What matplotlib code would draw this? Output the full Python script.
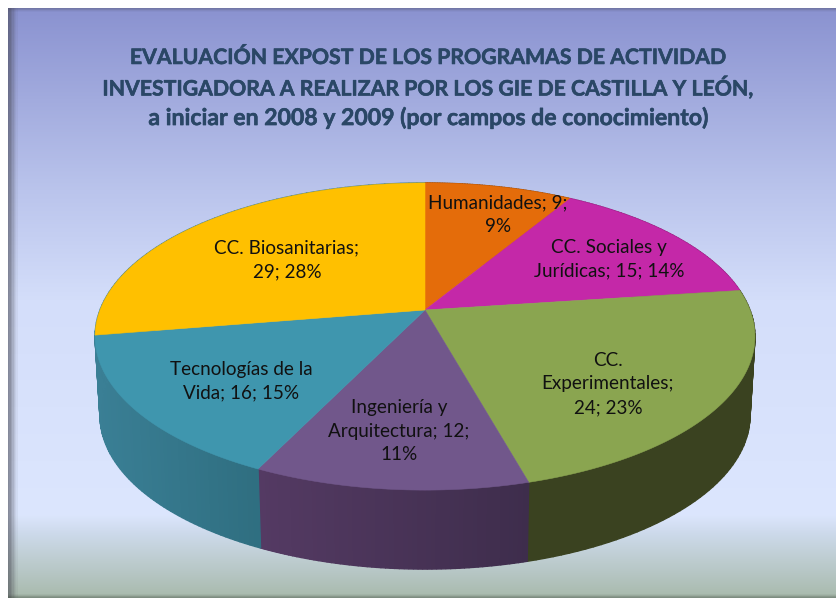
import numpy as np
import matplotlib
matplotlib.use("Agg")
import matplotlib.pyplot as plt
import matplotlib.patheffects as pe
from matplotlib.colors import to_rgb

plt.rcParams['font.family'] = ['Lato', 'DejaVu Sans']

categorias = ["Humanidades", "CC. Sociales y Jurídicas", "CC. Experimentales",
              "Ingeniería y Arquitectura", "Tecnologías de la Vida", "CC. Biosanitarias"]
valores = [9, 15, 24, 12, 16, 29]
etiquetas = ["Humanidades; 9;\n9%", "CC. Sociales y\nJurídicas; 15; 14%",
             "CC.\nExperimentales;\n24; 23%", "Ingeniería y\nArquitectura; 12;\n11%",
             "Tecnologías de la\nVida; 16; 15%", "CC. Biosanitarias;\n29; 28%"]
titulo = ["EVALUACIÓN EXPOST DE LOS PROGRAMAS DE ACTIVIDAD",
          "INVESTIGADORA A REALIZAR POR LOS GIE DE CASTILLA Y LEÓN,",
          "a iniciar en 2008 y 2009 (por campos de conocimiento)"]

colores = ["#e46c0a", "#c428a8", "#8aa550", "#71578b", "#3f96ae", "#ffc000"]
# the far left bit of the last slice's side shows up as teal in the reference
lado_izq = ["#a04c07", "#8a1d76", "#3a4220", "#543a63", "#3a7f95", "#3a7f95"]
lado_der = ["#a04c07", "#8a1d76", "#3a4220", "#3e2d4c", "#2f6e80", "#3a7f95"]
pos_etiquetas = [(498, 215), (609, 259), (608, 384), (399, 431), (241, 381), (287, 260)]
tam_titulo = [15.3, 15.3, 16.6]

# pixel geometry of the tilted pie
cx, cy = 425, 310
a, b, k = 325, 149, 0.1726
prof = 79
esc_base = 0.985


def proyecta(theta):
    # unit circle to screen, with perspective so the apex sits above the ellipse centre
    u = np.cos(np.radians(theta))
    v = np.sin(np.radians(theta))
    w = 1 + k * v
    return cx + a * u / w, cy - b * v / w


fig = plt.figure(figsize=(8.37, 5.99), dpi=100)

# ax.pie only gives the slice angles, it stays hidden
aux = fig.add_axes([0, 0, 0.1, 0.1])
wedges, _ = aux.pie(valores, startangle=90, counterclock=False)
aux.set_visible(False)

ax = fig.add_axes([0, 0, 1, 1])
ax.set_xlim(0, 837)
ax.set_ylim(599, 0)
ax.axis("off")

# background
ys = np.arange(8, 599)
stops_y = [8, 190, 300, 515, 535, 598]
stops_c = np.array([[138, 146, 208], [186, 196, 236], [212, 222, 250],
                    [220, 230, 254], [204, 217, 233], [168, 186, 172]]) / 255
fondo = np.stack([np.interp(ys, stops_y, stops_c[:, i]) for i in range(3)], axis=1)[:, None, :]
ax.imshow(fondo, extent=(8, 837, 598, 8), aspect="auto", zorder=0)
# bevel of the frame
for i, al in enumerate([0.55, 0.5, 0.4, 0.3, 0.2, 0.12, 0.06]):
    ax.fill_between([8 + i * 1.4, 9.4 + i * 1.4], 8, 598, color="#40404a", alpha=al, lw=0, zorder=1)
for i, al in enumerate([0.4, 0.3, 0.15, 0.06]):
    ax.fill_between([8, 837], 8 + i, 9 + i, color="#50506a", alpha=al, lw=0, zorder=1)
    ax.fill_between([8, 837], 597 - i, 598 - i, color="#404a40", alpha=al, lw=0, zorder=1)

# side of the pie
for w, c1, c2 in zip(wedges, lado_izq, lado_der):
    th = np.linspace(w.theta1, w.theta2, 61)
    x, y = proyecta(th)
    xb = cx + (x - cx) * esc_base
    yb = y + prof
    x0 = x.min()
    x1 = x.max()
    for i in range(len(th) - 1):
        f = (x[i] - x0) / max(x1 - x0, 1)
        col = (1 - f) * np.array(to_rgb(c1)) + f * np.array(to_rgb(c2))
        ax.fill([x[i], x[i + 1], xb[i + 1], xb[i]], [y[i], y[i + 1], yb[i + 1], yb[i]],
                color=col, lw=1, zorder=2)

# top of the pie
for w, c in zip(wedges, colores):
    th = np.linspace(w.theta1, w.theta2, 200)
    x, y = proyecta(th)
    ax.fill(np.r_[cx, x], np.r_[cy, y], color=c, lw=0.4, zorder=3)

for txt, (px, py) in zip(etiquetas, pos_etiquetas):
    ax.text(px, py, txt, ha="center", va="center", fontsize=13.6, color="#111111",
            linespacing=1.5, zorder=4)

for linea, py, tam in zip(titulo, [58, 88, 118], tam_titulo):
    ax.text(428, py, linea, ha="center", va="center", fontsize=tam, fontweight="bold",
            color="#2a4766", zorder=4,
            path_effects=[pe.withStroke(linewidth=0.4, foreground="#2a4766")])

fig.savefig("out.png", dpi=100)
